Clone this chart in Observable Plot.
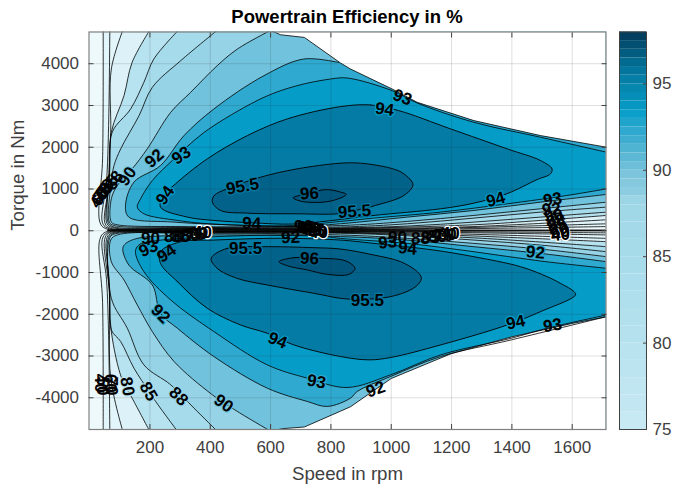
<!DOCTYPE html>
<html><head><meta charset="utf-8">
<script src="https://cdn.jsdelivr.net/npm/d3@7"></script>
<script src="https://cdn.jsdelivr.net/npm/@observablehq/plot@0.6"></script>
<style>
html,body{margin:0;padding:0;background:#fff;width:677px;height:490px;overflow:hidden}
#wrap{position:relative;width:677px;height:490px;font-family:"Liberation Sans",Arial,sans-serif}
#wrap svg{position:absolute;left:0;top:0;background:transparent;max-width:none}
#title{position:absolute;left:88px;width:518px;top:6px;text-align:center;font-weight:700;font-size:18.5px;line-height:22px;color:#000;z-index:3}
</style></head><body>
<div id="wrap"><div id="title">Powertrain Efficiency in %</div></div>
<script>
const xLabel = "Speed in rpm", yLabel = "Torque in Nm";
const xTicks = [200,400,600,800,1000,1200,1400,1600];
const yTicks = [-4000,-3000,-2000,-1000,0,1000,2000,3000,4000];
const barTicks = [75,80,85,90,95];

// envelope of the map
const topEdge = [[600,4800],[633,4694],[712,4630],[832,4017],[865,3873],[1003,3395],[1086,3076],[1274,2638],[1495,2279],[1714,2000]];
const bottomEdge = [[600,-4800],[640,-4740],[712,-4700],[832,-4320],[865,-4215],[1000,-3538],[1200,-2940],[1400,-2540],[1600,-2220],[1714,-2060]];

// upper half contours
const u60 = [[45,4800],[43,1722],[34,207],[52,55],[300,30],[1000,30],[1714,100]];
const u70 = [[67,4800],[63,2518],[56,1164],[42,207],[59,65],[300,40],[1000,40],[1714,167]];
const u75 = [[110,4800],[72,3873],[70,2359],[61,1004],[50,207],[64,75],[300,50],[1000,60],[1274,100],[1714,263]];
const u80 = [[199,4800],[141,4033],[114,3236],[72,2359],[64,1164],[56,207],[70,90],[300,60],[832,55],[1274,143],[1495,247],[1714,367]];
const u85 = [[294,4800],[213,4113],[180,3555],[136,2917],[75,2359],[67,1482],[61,207],[75,104],[300,70],[832,70],[1053,112],[1274,207],[1495,327],[1714,446]];
const u88 = [[423,4800],[302,4073],[208,3435],[164,2758],[103,1960],[81,1562],[72,1164],[65,207],[80,128],[300,85],[832,90],[1053,167],[1274,303],[1495,446],[1714,566]];
const u90 = [[600,4800],[490,4352],[423,3953],[335,3315],[269,2837],[191,1960],[141,1482],[92,1084],[72,765],[72,207],[92,143],[300,100],[832,125],[1053,223],[1274,367],[1495,526],[1714,685]];
const u92 = [[825,4030],[710,4113],[578,3714],[412,2917],[313,2279],[235,1562],[147,1164],[119,606],[130,327],[280,207],[523,125],[677,100],[832,167],[1053,327],[1274,486],[1495,685],[1714,870]];
const u93 = [[1714,1881],[1495,2240],[1274,2598],[1086,3060],[1003,3355],[854,3658],[799,3634],[688,3475],[578,3196],[412,2518],[346,2160],[280,1722],[208,1203],[169,765],[158,566],[180,406],[291,247],[412,160],[677,125],[832,223],[943,303],[1164,446],[1385,645],[1583,845],[1714,1004]];
const u94 = [[832,2973],[931,3013],[1025,2877],[1197,2439],[1385,1960],[1495,1682],[1533,1482],[1528,1363],[1484,1227],[1383,885],[1274,661],[1164,526],[943,367],[832,270],[677,160],[539,190],[412,247],[324,327],[235,566],[246,845],[285,1124],[390,1722],[523,2279],[655,2678]];
const u955 = [[407,685],[413,845],[456,1004],[567,1283],[688,1482],[832,1618],[898,1618],[998,1498],[1042,1363],[1072,1100],[1042,845],[948,606],[882,486],[821,406],[688,406],[523,422],[434,486]];
const u96 = [[675,790],[720,880],[782,985],[830,930],[851,869],[830,780],[782,690],[705,700]];

// lower half contours
const l60 = [[45,-4800],[43,-1722],[34,-207],[52,-35],[300,-15],[1000,-15],[1714,-50]];
const l70 = [[67,-4800],[63,-2518],[56,-1164],[42,-207],[59,-45],[300,-22],[1000,-25],[1714,-100]];
const l75 = [[110,-4800],[70,-3530],[66,-1500],[50,-207],[64,-55],[300,-28],[1000,-40],[1714,-183]];
const l80 = [[199,-4800],[141,-4009],[108,-3570],[72,-2415],[64,-1164],[56,-207],[70,-65],[300,-35],[1000,-60],[1714,-263]];
const l85 = [[291,-4800],[219,-4089],[197,-3849],[147,-3291],[103,-2654],[72,-2375],[67,-1482],[61,-207],[75,-75],[300,-45],[832,-45],[1274,-170],[1714,-382]];
const l88 = [[423,-4800],[346,-4248],[269,-3690],[180,-3212],[125,-2335],[72,-1618],[66,-183],[80,-85],[300,-55],[832,-60],[1053,-120],[1274,-223],[1495,-343],[1714,-502]];
const l90 = [[600,-4800],[490,-4328],[407,-3929],[280,-3132],[208,-2415],[158,-1777],[114,-1179],[72,-741],[70,-223],[92,-100],[412,-60],[832,-100],[1053,-183],[1274,-303],[1495,-438],[1714,-622]];
const l92 = [[1714,-2056],[1398,-2614],[1164,-3013],[998,-3491],[887,-3850],[865,-4009],[788,-4208],[722,-4089],[589,-3770],[412,-3013],[291,-2335],[235,-1977],[208,-1299],[130,-821],[110,-422],[120,-303],[158,-183],[302,-110],[832,-140],[1053,-223],[1274,-382],[1495,-542],[1714,-741]];
const l93 = [[1714,-2017],[1517,-2335],[1398,-2574],[1164,-2973],[998,-3451],[854,-3754],[722,-3531],[589,-3212],[412,-2415],[269,-1658],[180,-980],[152,-502],[163,-343],[213,-247],[412,-143],[744,-110],[832,-183],[1053,-303],[1274,-502],[1495,-725],[1714,-900]];
const l94 = [[235,-781],[291,-1219],[390,-1857],[500,-2255],[589,-2455],[677,-2734],[832,-3013],[926,-3092],[998,-3036],[1164,-2734],[1385,-2255],[1495,-1937],[1611,-1538],[1606,-1458],[1561,-1259],[1517,-1100],[1429,-861],[1274,-622],[1141,-462],[943,-303],[832,-223],[632,-180],[412,-223],[302,-263],[235,-502]];
const l955 = [[403,-661],[456,-422],[578,-382],[744,-406],[832,-438],[943,-582],[1031,-741],[1086,-980],[1100,-1140],[1081,-1339],[998,-1578],[854,-1634],[744,-1498],[589,-1299],[489,-1140],[423,-900]];
const l96 = [[628,-741],[677,-645],[766,-661],[832,-690],[860,-760],[880,-900],[860,-1044],[788,-1044],[722,-940],[655,-837]];

// thin lines that crowd the zero-torque axis
const coreTorque = [18,6,-4];
const coreSpeed = [60,1714];

// fill colours by level
const baseFill = "#eef9fc";
const fill60 = "#e2f5fa", fill75 = "#ddf2f8", fill80 = "#b7e2ef", fill85 = "#a6dbeb", fill88 = "#96d3e6";
const fill90 = "#71c3dd", fill92 = "#2fa9cf", fill93 = "#059cc8", fill94 = "#047ba5", fill955 = "#02628a", fill96 = "#02547b";

// labels on the contours
const labelText =  ["93","94","92","93","90","88","85","80","75","60","40","94","95.5","96","95.5","94","94","93","92","90","88","85","80","60","40","90","88","85","80","75","60","40","90","93","94","88","85","80","75","60","40","95.5","92","96","95.5","92","94","93","90","88","85","80","92","94","93","92","93","90","94","88","85","80","75","60","40","40","50","60","70"];
const labelSpeed = [1037,978,215,304,125,82,66,52,42,36,32,251,507,729,878,537,1346,1535,1531,1538,1545,1551,1555,1561,1561,709,719,729,739,749,755,759,202,195,255,278,301,334,351,361,374,517,666,729,921,235,623,752,444,295,195,125,948,1412,1535,1478,988,1021,1054,1097,1130,1153,1173,1186,1196,36,42,68,72];
const labelTorque = [3193,2905,1732,1803,1300,1205,1109,1013,917,821,774,845,1061,893,462,175,750,750,510,360,240,144,48,-24,-96,103,79,55,31,7,-20,-41,-184,-424,-544,-136,-136,-113,-90,-70,-50,-424,-160,-663,-1669,-1990,-2627,-3611,-4136,-3968,-3849,-3729,-3801,-2196,-2268,-520,-280,-160,-424,-184,-160,-136,-112,-88,-65,-3650,-3720,-3650,-3720];
const labelAngle = [20,8,-42,-35,-55,-55,-55,-55,-55,-55,-55,-55,-10,-3,-4,2,-15,-8,-6,-6,-6,-6,-6,-6,-6,0,0,0,0,0,0,0,0,-25,-35,0,0,0,0,0,0,0,-2,3,0,45,22,10,35,45,60,80,-20,-12,-8,5,-5,0,5,0,0,0,0,0,0,90,90,90,90];
const labelHalo = [null,"#059cc8","#5ab8d7","#1aa3cc","#71c3dd",null,null,null,null,null,null,"#059cc8","#047ba5","#02628a","#047ba5",null,"#059cc8",null,null,null,null,null,null,null,"#ffffff",null,null,null,null,null,null,"#ffffff",null,null,null,null,null,null,null,null,"#ffffff","#047ba5",null,"#02628a","#047ba5","#2fa9cf","#059cc8","#2fa9cf","#71c3dd","#96d3e6","#a6dbeb","#b7e2ef",null,"#059cc8",null,"#2fa9cf",null,null,null,null,null,null,null,null,"#ffffff",null,null,null,null];

// colour bar steps
const barFrom = [75,76,77,78,79,80,81,82,83,84,85,86,87,88,88.5,89,89.5,90,90.5,91,91.5,92,92.5,93,93.5,94,94.5,95,95.5,96,96.5,97,97.5];
const barTo   = [76,77,78,79,80,81,82,83,84,85,86,87,88,88.5,89,89.5,90,90.5,91,91.5,92,92.5,93,93.5,94,94.5,95,95.5,96,96.5,97,97.5,98];
const barFill = ["#c7e9f3","#c3e7f2","#c0e6f1","#bce4f0","#b9e3ef","#b5e1ee","#b2e0ed","#afdfec","#acddec","#a9dceb","#a6dbea","#a3d9e9","#a0d8e8","#9bd5e6","#8ccde1","#85c9df","#7cc5dc","#6dbfd9","#5cb8d5","#4fb3d2","#3fadd0","#2fa9cf","#1fa4cc","#0aa0ca","#0698c2","#058fb8","#0587ae","#057fa6","#04759c","#036a90","#025d81","#024f72","#033f5f"];

const FONT = '"Liberation Sans",Arial,sans-serif';
const TXT = "#404040";
const labels = labelText.map((t,i)=>({t,s:labelSpeed[i],q:labelTorque[i],a:labelAngle[i],h:labelHalo[i]}));

const openUp = (p,color)=>{const e=p[p.length-1];return {pts:[...p,[1760,e[1]],[1760,4900],[p[0][0],4900]],color};};
const openDn = (p,color)=>{const e=p[p.length-1];return {pts:[...p,[1760,e[1]],[1760,-4900],[p[0][0],-4900]],color};};

const fills = [
  openUp(u60,fill60),openDn(l60,fill60),
  openUp(u75,fill75),openDn(l75,fill75),
  openUp(u80,fill80),openDn(l80,fill80),
  openUp(u85,fill85),openDn(l85,fill85),
  openUp(u88,fill88),openDn(l88,fill88),
  openUp(u90,fill90),openDn(l90,fill90),
  openUp(u92,fill92),{pts:l92,color:fill92},
];
const closedFills = [
  {pts:u93,color:fill93},{pts:l93,color:fill93},
  {pts:u94,color:fill94},{pts:l94,color:fill94},
  {pts:u955,color:fill955},{pts:l955,color:fill955},
  {pts:u96,color:fill96},{pts:l96,color:fill96},
];
const openLines = [u60,u70,u75,u80,u85,u88,u90,u92,u93,l60,l70,l75,l80,l85,l88,l90,l92,l93];
const loopLines = [u94,u955,u96,l94,l955,l96];
const X=d=>d[0],Y=d=>d[1];

const marks = [];
marks.push(Plot.line([[0,4900],[1760,4900],[1760,-4900],[0,-4900]],{x:X,y:Y,fill:baseFill,stroke:"none",clip:true}));
for(const f of fills) marks.push(Plot.line(f.pts,{x:X,y:Y,fill:f.color,stroke:"none",curve:"catmull-rom",clip:true}));
for(const f of closedFills) marks.push(Plot.line(f.pts,{x:X,y:Y,fill:f.color,stroke:"none",curve:f.pts===u93||f.pts===l93?"catmull-rom":"catmull-rom-closed",clip:true}));
// white outside the envelope
marks.push(Plot.line([...topEdge,[1760,2000],[1760,4900]],{x:X,y:Y,fill:"#fff",stroke:"none",clip:true}));
marks.push(Plot.line([...bottomEdge,[1760,-2060],[1760,-4900]],{x:X,y:Y,fill:"#fff",stroke:"none",clip:true}));
marks.push(Plot.line(topEdge,{x:X,y:Y,stroke:"#000",strokeWidth:.8,clip:true}));
marks.push(Plot.line(bottomEdge,{x:X,y:Y,stroke:"#000",strokeWidth:.8,clip:true}));
for(const p of openLines) marks.push(Plot.line(p,{x:X,y:Y,stroke:"#000",strokeWidth:.8,curve:"catmull-rom",clip:true}));
for(const p of loopLines) marks.push(Plot.line(p,{x:X,y:Y,stroke:"#000",strokeWidth:.9,curve:"catmull-rom-closed",clip:true}));
for(const q of coreTorque) marks.push(Plot.line(coreSpeed.map(s=>[s,q]),{x:X,y:Y,stroke:"#000",strokeWidth:.8,clip:true}));
marks.push(Plot.gridX(xTicks,{stroke:"#262626",strokeOpacity:.15,strokeWidth:1}));
marks.push(Plot.gridY(yTicks,{stroke:"#262626",strokeOpacity:.15,strokeWidth:1}));
const labelStyle = {x:"s",y:"q",text:"t",rotate:"a",fill:"#000",fontWeight:700,fontSize:17,fontFamily:FONT,clip:true};
marks.push(Plot.text(labels.filter(d=>d.h),{...labelStyle,stroke:"h",strokeWidth:2.5,paintOrder:"stroke"}));
marks.push(Plot.text(labels.filter(d=>!d.h),labelStyle));
marks.push(Plot.frame({stroke:"#808080",strokeWidth:1.2}));
marks.push(Plot.axisX(xTicks,{anchor:"bottom",tickSize:-5,tickPadding:16,tickFormat:d=>String(d),fontSize:17,fontFamily:FONT,color:TXT,label:null}));
marks.push(Plot.axisX(xTicks,{anchor:"top",tickSize:-5,tickFormat:()=>"",label:null,color:"#404040"}));
marks.push(Plot.axisY(yTicks,{anchor:"left",tickSize:-5,tickPadding:15,tickFormat:d=>String(d),fontSize:17,fontFamily:FONT,color:TXT,label:null}));
marks.push(Plot.axisY(yTicks,{anchor:"right",tickSize:-5,tickFormat:()=>"",label:null,color:"#404040"}));
marks.push(Plot.text([xLabel],{frameAnchor:"bottom",dy:50,fontSize:18.7,fontFamily:FONT,fill:TXT}));
marks.push(Plot.text([yLabel],{frameAnchor:"left",dx:-71,rotate:-90,fontSize:18.7,fontFamily:FONT,fill:TXT}));

const chart = Plot.plot({width:677,height:490,marginLeft:88.5,marginRight:71.5,marginTop:31.5,marginBottom:61,
  style:{fontFamily:FONT,background:"transparent",overflow:"visible"},
  x:{domain:[-2,1712]},y:{domain:[-4760,4760]},marks});

const bar = Plot.plot({width:677,height:490,marginLeft:619,marginRight:31,marginTop:31.5,marginBottom:61,
  style:{fontFamily:FONT,background:"transparent"},
  x:{domain:[0,1],axis:null},y:{domain:[75,98]},
  marks:[
    Plot.rect(barFrom.map((f,i)=>({f,t:barTo[i],c:barFill[i]})),{x1:0,x2:1,y1:"f",y2:"t",fill:"c"}),
    Plot.frame({stroke:"#404040",strokeWidth:1}),
    Plot.axisY(barTicks,{anchor:"right",tickSize:-4,tickPadding:10,fontSize:17,fontFamily:FONT,color:TXT,label:null}),
  ]});
const w=document.getElementById("wrap");
w.appendChild(chart);w.appendChild(bar);
</script></body></html>
